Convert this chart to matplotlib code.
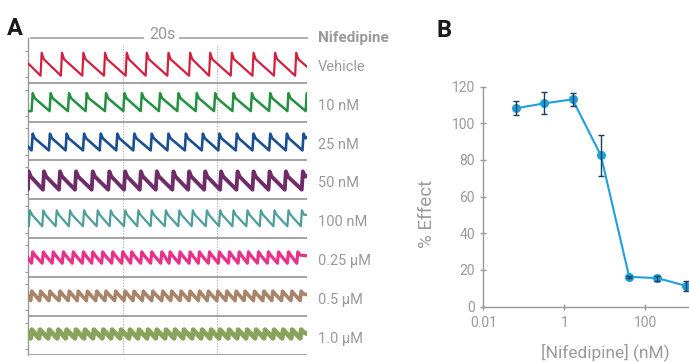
import matplotlib
matplotlib.use("Agg")
import matplotlib.pyplot as plt
from matplotlib.ticker import NullLocator

plt.rcParams["font.family"] = ["Roboto", "DejaVu Sans"]

GREY = "#9a9a9a"

# ---- panel A: beating traces, one row per condition ----
labels = ["Vehicle", "10 nM", "25 nM", "50 nM", "100 nM", "0.25 µM", "0.5 µM", "1.0 µM"]
colors = ["#d2213f", "#23913f", "#1b4f93", "#6e2c6b", "#4e9f9b", "#e8318a", "#a8846a", "#8aa35c"]
widths = [1.6, 1.8, 1.9, 2.8, 1.6, 2.3, 2.6, 3.5]

# peak times (s)
peaks = [
    [0.99, 2.46, 4.01, 5.58, 7.15, 8.60, 10.17, 11.74, 13.19, 14.76, 16.33, 17.89, 19.42],
    [0.34, 1.64, 2.97, 4.25, 5.65, 6.98, 8.24, 9.56, 10.89, 12.22, 13.55, 14.88, 16.21,
     17.54, 18.86, 20.18],
    [0.34, 1.59, 2.80, 4.06, 5.27, 6.47, 7.70, 8.96, 10.17, 11.43, 12.66, 13.86, 15.12,
     16.33, 17.54, 18.74, 19.95],
    [0.05, 1.16, 2.32, 3.48, 4.69, 5.89, 7.03, 8.17, 9.33, 10.53, 11.67, 12.83, 13.98,
     15.17, 16.33, 17.49, 18.67, 19.90],
    [0.14, 1.11, 2.08, 3.04, 4.06, 5.05, 5.99, 7.03, 7.99, 8.96, 9.98, 10.96, 11.93,
     12.95, 13.91, 14.88, 15.89, 16.86, 17.85, 18.86, 19.83],
    [0.34, 1.11, 1.83, 2.56, 3.28, 4.01, 4.69, 5.41, 6.14, 6.86, 7.51, 8.24, 8.96, 9.69,
     10.29, 11.01, 11.74, 12.41, 13.14, 13.86, 14.59, 15.29, 15.96, 16.69, 17.41, 18.14,
     18.86, 19.54],
    [0.27, 0.92, 1.59, 2.32, 2.99, 3.64, 4.30, 4.98, 5.65, 6.35, 7.03, 7.68, 8.35, 9.04,
     9.76, 10.41, 11.09, 11.74, 12.41, 13.06, 13.75, 14.40, 15.07, 15.72, 16.40, 17.08,
     17.73, 18.43, 19.11, 19.78],
    [0.27, 0.87, 1.54, 2.20, 2.80, 3.48, 4.13, 4.78, 5.46, 6.09, 6.74, 7.39, 8.04, 8.70,
     9.33, 10.00, 10.65, 11.30, 11.96, 12.61, 13.26, 13.91, 14.56, 15.22, 15.87, 16.52,
     17.17, 17.82, 18.48, 19.13, 19.78],
]
# levels in row units (0 = bottom of row, 1 = top)
peak_lvl = [0.77, 0.73, 0.69, 0.72, 0.72, 0.65, 0.64, 0.65]
trough_lvl = [0.18, 0.27, 0.26, 0.25, 0.31, 0.36, 0.40, 0.43]
start_lvl = [0.50, 0.27, 0.36, 0.70, 0.70, 0.50, 0.52, 0.54]
end_lvl = [0.41, 0.73, 0.60, 0.60, 0.60, 0.55, 0.55, 0.55]

T_END = 20.2
RISE = 0.08
DROP = 0.15


def trace(pk, top, bot, y0, y1):
    xs = [0.0]
    ys = [y0]
    for p in pk:
        xs += [p - RISE, p, p + DROP]
        ys += [bot, top, top - 0.28 * (top - bot)]
    xs.append(max(T_END, xs[-1]))
    ys.append(y1)
    return xs, ys


# ---- panel B: concentration response ----
conc = [0.064, 0.32, 1.6, 8, 40, 200, 1000]
effect = [108.2, 110.9, 113.1, 82.5, 16.2, 15.5, 11.3]
err = [3.8, 6.0, 3.5, 11.3, 0.6, 1.4, 2.8]

fig = plt.figure(figsize=(6.89, 3.62), dpi=100)

# panel A
W, H = 689, 362
axA = fig.add_axes([28 / W, 1 - 355 / H, 279 / W, 317.3 / H])
n = len(labels)
ytop = n + 6.1 / 38.9
axA.set_xlim(0, T_END)
axA.set_ylim(0, ytop)

for i in range(n):
    base = n - 1 - i
    xs, ys = trace(peaks[i], peak_lvl[i], trough_lvl[i], start_lvl[i], end_lvl[i])
    axA.plot(xs, [base + v for v in ys], color=colors[i], lw=widths[i],
             solid_joinstyle="round", zorder=3)
    axA.hlines(base, 0, T_END, color="#8a8a8a", lw=1.1, zorder=2)
    axA.text(21.0, base + 0.41, labels[i], color=GREY, fontsize=10.5,
             va="center", ha="left", clip_on=False)

for xv in [6.86, 13.67]:
    axA.vlines(xv, 0, n, color="#b5b5b5", lw=0.9, linestyles=(0, (1, 1.2)), zorder=1)

# 20 s scale bar
axA.plot([0.22, 8.33], [ytop, ytop], color="#aaaaaa", lw=1.3, clip_on=False)
axA.plot([11.01, 20.2], [ytop, ytop], color="#aaaaaa", lw=1.3, clip_on=False)
axA.text(9.7, ytop + 0.07, "20s", color=GREY, fontsize=11.5, ha="center",
         va="center", clip_on=False)
axA.text(21.0, ytop, "Nifedipine", color=GREY, fontsize=11, fontweight="bold",
         ha="left", va="center", clip_on=False)

for s in ["top", "right", "bottom"]:
    axA.spines[s].set_visible(False)
axA.spines["left"].set_color(GREY)
axA.spines["left"].set_linewidth(1.0)
axA.set_xticks([])
yt = []
for i in range(n):
    yt += [i + 0.144, i + 0.825]
axA.set_yticks(yt)
axA.set_yticklabels([])
axA.tick_params(axis="y", length=2, color=GREY, width=0.8)

fig.text(6.5 / W, 1 - 35 / H, "A", fontsize=17, fontweight="bold", color="#1a1a1a",
         va="baseline")
fig.text(437 / W, 1 - 36.7 / H, "B", fontsize=17, fontweight="bold", color="#1a1a1a",
         va="baseline")

# panel B
axB = fig.add_axes([483.3 / W, 1 - 306.5 / H, 210.6 / W, 219.8 / H])
axB.set_xscale("log")
axB.plot(conc, effect, color="#1ea0dc", lw=1.5, marker="o", ms=5.5,
         mfc="#1ea0dc", mec="#1ea0dc", zorder=3)
axB.errorbar(conc, effect, yerr=err, fmt="none", ecolor="#1f3d5c", elinewidth=1.0,
             capsize=2.5, capthick=1.0, zorder=4)
axB.set_xlim(0.01, 10 ** 3.2)
axB.set_ylim(0, 120)
axB.set_xticks([0.01, 1, 100])
axB.set_xticklabels(["0.01", "1", "100"])
axB.xaxis.set_minor_locator(NullLocator())
axB.set_yticks(range(0, 121, 20))
axB.tick_params(axis="both", direction="inout", length=5, color=GREY, width=1.0,
                labelcolor=GREY, labelsize=10)
axB.tick_params(axis="x", pad=4)
for s in ["top", "right"]:
    axB.spines[s].set_visible(False)
for s in ["left", "bottom"]:
    axB.spines[s].set_color(GREY)
    axB.spines[s].set_linewidth(1.0)
axB.set_ylabel("% Effect", color=GREY, fontsize=13.5)
axB.yaxis.set_label_coords(-0.225, 0.42)
axB.set_xlabel("[Nifedipine] (nM)", color=GREY, fontsize=12.5)
axB.xaxis.set_label_coords(0.578, -0.165)

fig.savefig("out.png", dpi=100)
